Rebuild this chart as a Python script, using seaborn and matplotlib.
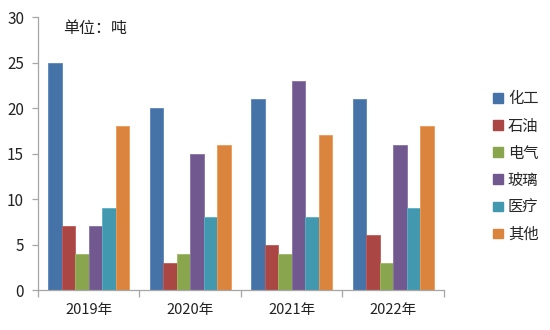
import matplotlib
matplotlib.use("Agg")
import matplotlib.pyplot as plt
import seaborn as sns
import pandas as pd
from matplotlib.patches import Patch

years = ["2019年", "2020年", "2021年", "2022年"]
sectors = ["化工", "石油", "电气", "玻璃", "医疗", "其他"]
chemical = [25, 20, 21, 21]
petroleum = [7, 3, 5, 6]
electric = [4, 4, 4, 3]
glass = [7, 15, 23, 16]
medical = [9, 8, 8, 9]
other = [18, 16, 17, 18]
yticks = [0, 5, 10, 15, 20, 25, 30]

colors = ["#4572A7", "#AA4643", "#89A54E", "#71588F", "#4198AF", "#DB843D"]
edges = ["#5A86BC", "#C05C59", "#9DBA62", "#8A72A8", "#5AB0C8", "#EE9A55"]

series = [chemical, petroleum, electric, glass, medical, other]
rows = []
for name, vals in zip(sectors, series):
    for y, v in zip(years, vals):
        rows.append({"year": y, "sector": name, "value": v})
df = pd.DataFrame(rows)

sns.set_theme(style="white")
plt.rcParams["font.family"] = ["Noto Sans CJK SC", "DejaVu Sans"]

fig = plt.figure(figsize=(5.5, 3.3), dpi=100)
ax = fig.add_axes([0.069, 0.121, 0.738, 0.827])

sns.barplot(data=df, x="year", y="value", hue="sector", order=years,
            hue_order=sectors, palette=colors, width=0.8, gap=0,
            saturation=1, legend=False, ax=ax)

# lighter outline on each bar, per series
for container, ec in zip(ax.containers, edges):
    for bar in container:
        bar.set_edgecolor(ec)
        bar.set_linewidth(0.6)

ax.set_xlim(-0.5, 3.5)
ax.set_ylim(0, 30)
ax.set_yticks(yticks)
ax.set_xlabel("")
ax.set_ylabel("")

for side in ["top", "right"]:
    ax.spines[side].set_visible(False)
for side in ["left", "bottom"]:
    ax.spines[side].set_color("#A6A6A6")
    ax.spines[side].set_linewidth(0.9)

ax.tick_params(axis="y", which="major", length=4, width=0.9, color="#A6A6A6",
               labelsize=11, labelcolor="#222222", pad=6, left=True)
ax.tick_params(axis="x", which="major", length=0, labelsize=10.5,
               labelcolor="#222222", pad=9)
ax.set_xticks([-0.5, 0.5, 1.5, 2.5, 3.5], minor=True)
ax.tick_params(axis="x", which="minor", length=5, width=0.9, color="#A6A6A6",
               bottom=True)

ax.text(0.063, 0.99, "单位：吨", transform=ax.transAxes, fontsize=11.5,
        color="#222222", va="top", ha="left")

handles = [Patch(facecolor=c, edgecolor=c) for c in colors]
fig.legend(handles, sectors, loc="center left", bbox_to_anchor=(0.872, 0.495),
           frameon=False, fontsize=11, handlelength=0.6, handleheight=0.6,
           handletextpad=0.35, labelspacing=0.66)

fig.savefig("out.png", dpi=100)
